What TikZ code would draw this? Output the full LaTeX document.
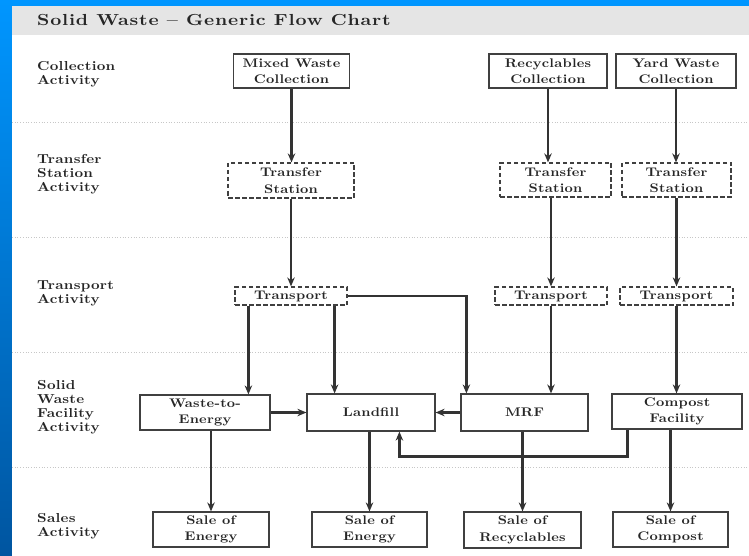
\documentclass[tikz,border=0pt]{standalone}
\usepackage{fontspec}
\newfontfamily\chartfont{lmroman10-regular.otf}[BoldFont=lmroman10-bold.otf, FakeStretch=1.15, LetterSpace=2]
\usetikzlibrary{arrows.meta}

\begin{document}
\begin{tikzpicture}[x=1pt, y=-1pt,
    lbl/.style={anchor=west, align=left, inner sep=0pt, text=black!85,
        font=\chartfont\bfseries\fontsize{13}{14}\selectfont},
    box/.style={draw=black!75, line width=1.2pt, fill=white, align=center, inner sep=0pt, text=black!85,
        font=\chartfont\bfseries\fontsize{12.5}{16.5}\selectfont},
    dbox/.style={box, dash pattern=on 4.5pt off 2.5pt},
    flow/.style={draw=black!80, line width=2.6pt, -{Stealth[length=9pt, width=7.5pt]}},
    sep/.style={draw=black!22, dotted, line width=0.7pt}]
        \useasboundingbox (0,0) rectangle (749,556);
        % slide background and page
        \shade[top color={rgb,255:red,0;green,150;blue,255}, bottom color={rgb,255:red,0;green,85;blue,160}] (0,0) rectangle (749,556);
        \fill[white] (12,6) rectangle (749,556);
        \fill[gray!20] (12,6) rectangle (749,35);
        \node[anchor=west, inner sep=0pt, text=black!85, font=\chartfont\bfseries\addfontfeatures{LetterSpace=5, FakeStretch=1.2}\fontsize{16}{16}\selectfont] (title) at (37,20) {Solid Waste \textendash{} Generic Flow Chart};
        \foreach \y in {122,237,352,467}
            \draw[sep] (12,\y) -- (749,\y);
        %
        \node[lbl] (rowcol) at (37,74) {Collection\\Activity};
        \node[lbl] (rowts) at (37,174) {Transfer\\Station\\Activity};
        \node[lbl] (rowtr) at (37,293) {Transport\\Activity};
        \node[lbl] (rowfac) at (37,407) {Solid\\Waste\\Facility\\Activity};
        \node[lbl] (rowsale) at (37,526) {Sales\\Activity};
        %
        \node[box, minimum width=116pt, minimum height=34pt] (mixcol) at (291.5,71) {Mixed Waste\\Collection};
        \node[box, minimum width=118pt, minimum height=34pt] (reccol) at (548,71) {Recyclables\\Collection};
        \node[box, minimum width=120pt, minimum height=34pt] (yardcol) at (676,71) {Yard Waste\\Collection};
        \node[dbox, minimum width=126pt, minimum height=35pt] (mixts) at (291,180.5) {Transfer\\Station};
        \node[dbox, minimum width=111pt, minimum height=34pt] (rects) at (555.5,180) {Transfer\\Station};
        \node[dbox, minimum width=109pt, minimum height=34pt] (yardts) at (676.5,180) {Transfer\\Station};
        \node[dbox, minimum width=112pt, minimum height=18pt] (mixtr) at (291,296) {Transport};
        \node[dbox, minimum width=112pt, minimum height=18pt] (rectr) at (551,296) {Transport};
        \node[dbox, minimum width=113pt, minimum height=18pt] (yardtr) at (676.5,296) {Transport};
        \node[box, minimum width=130pt, minimum height=35pt] (wte) at (205,412.5) {Waste-to-\\Energy};
        \node[box, minimum width=128pt, minimum height=37pt] (landfill) at (371,412.5) {Landfill};
        \node[box, minimum width=127pt, minimum height=37pt] (mrf) at (524.5,412.5) {MRF};
        \node[box, minimum width=130pt, minimum height=35pt] (compost) at (677,411.5) {Compost\\Facility};
        \node[box, minimum width=116pt, minimum height=35pt] (saleen) at (211,529.5) {Sale of\\Energy};
        \node[box, minimum width=115pt, minimum height=35pt] (salelf) at (369.5,529.5) {Sale of\\Energy};
        \node[box, minimum width=117pt, minimum height=36pt] (salerec) at (522.5,530) {Sale of\\Recyclables};
        \node[box, minimum width=115pt, minimum height=35pt] (salecomp) at (670.5,529.5) {Sale of\\Compost};
        %
        \coordinate (wtein) at ([xshift=14pt]mixtr.south west);
        \coordinate (lfin) at ([xshift=-13pt]mixtr.south east);
        \coordinate (mrfin) at ([xshift=6pt]mrf.north west);
        \coordinate (compout) at ([xshift=16pt]compost.south west);
        \coordinate (lfback) at ([xshift=93pt]landfill.south west);
        %
        \draw[flow] (mixcol.south) -- (mixcol.south |- mixts.north);
        \draw[flow] (mixts.south) -- (mixts.south |- mixtr.north);
        \draw[flow] (reccol.south) -- (reccol.south |- rects.north);
        \draw[flow] (rectr.north |- rects.south) -- (rectr.north);
        \draw[flow] (yardcol.south) -- (yardcol.south |- yardts.north);
        \draw[flow] (yardts.south) -- (yardts.south |- yardtr.north);
        \draw[flow] (wtein) -- (wtein |- wte.north);
        \draw[flow] (lfin) -- (lfin |- landfill.north);
        \draw[flow] (mixtr.east) -| (mrfin);
        \draw[flow] (rectr.south) -- (rectr.south |- mrf.north);
        \draw[flow] (yardtr.south) -- (yardtr.south |- compost.north);
        \draw[flow] (wte.east) -- (landfill.west);
        \draw[flow] (mrf.west) -- (landfill.east);
        \draw[flow] (compout) -- ++(0,27) -| (lfback);
        \draw[flow] (saleen.north |- wte.south) -- (saleen.north);
        \draw[flow] (salelf.north |- landfill.south) -- (salelf.north);
        \draw[flow] (salerec.north |- mrf.south) -- (salerec.north);
        \draw[flow] (salecomp.north |- compost.south) -- (salecomp.north);
\end{tikzpicture}
\end{document}
